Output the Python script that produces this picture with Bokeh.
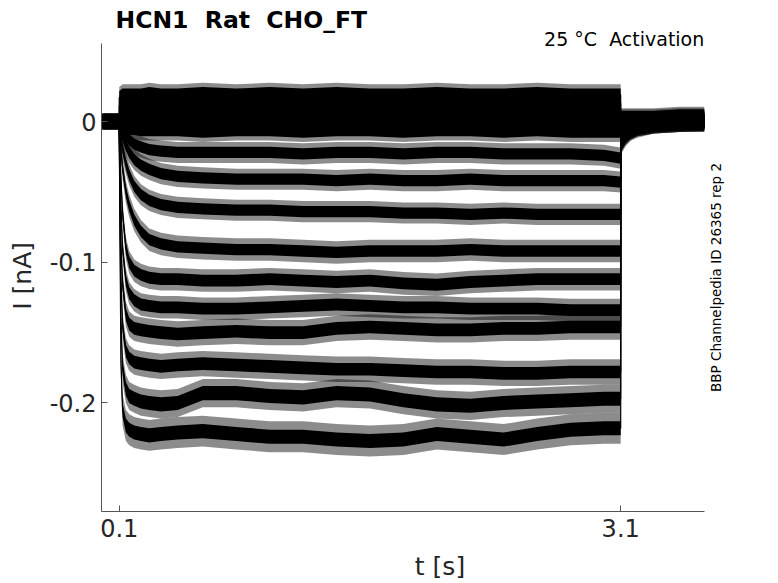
import math
import numpy as np
from bokeh.plotting import figure
from bokeh.models import Range1d, FixedTicker, Label
from bokeh.embed import file_html
from bokeh.resources import INLINE

# ---- time bases (s) ----
t_pre = [0.0, 0.1]
t_pulse = [0.1, 0.11, 0.12, 0.14, 0.16, 0.19, 0.23, 0.28, 0.35, 0.45, 0.6, 0.8,
           1.0, 1.2, 1.4, 1.6, 1.8, 2.0, 2.2, 2.4, 2.6, 2.8, 3.0, 3.1]
t_tail = [3.1, 3.11, 3.13, 3.16, 3.2, 3.3, 3.45, 3.6]

# ---- holding current before the step (nA) ----
pre_nA = [0.0, 0.0]

# ---- current during the activation step (nA), one list per sweep ----
pulse_01 = [0.017, 0.018, 0.019, 0.019, 0.019, 0.019, 0.019, 0.020, 0.019, 0.019, 0.020, 0.019,
            0.020, 0.019, 0.020, 0.019, 0.019, 0.020, 0.019, 0.019, 0.020, 0.019, 0.019, 0.019]
pulse_02 = [0.011, 0.012, 0.013, 0.013, 0.013, 0.013, 0.013, 0.013, 0.014, 0.013, 0.013, 0.013,
            0.014, 0.013, 0.013, 0.014, 0.013, 0.013, 0.013, 0.014, 0.013, 0.013, 0.013, 0.013]
pulse_03 = [0.006, 0.007, 0.007, 0.007, 0.007, 0.007, 0.007, 0.008, 0.007, 0.007, 0.007, 0.007,
            0.008, 0.007, 0.007, 0.007, 0.008, 0.007, 0.007, 0.007, 0.007, 0.008, 0.007, 0.007]
pulse_04 = [0.000, 0.000, 0.001, 0.001, 0.000, 0.001, 0.000, 0.001, 0.000, 0.001, 0.000, 0.001,
            0.000, 0.000, 0.001, 0.000, 0.001, 0.000, 0.000, 0.001, 0.000, 0.000, 0.001, 0.000]
pulse_05 = [-0.001, -0.002, -0.003, -0.004, -0.005, -0.005, -0.006, -0.006, -0.006, -0.006, -0.007, -0.006,
            -0.006, -0.007, -0.006, -0.006, -0.007, -0.006, -0.006, -0.007, -0.006, -0.007, -0.007, -0.007]
pulse_06 = [-0.003, -0.005, -0.007, -0.010, -0.013, -0.016, -0.018, -0.020, -0.021, -0.022, -0.022, -0.022,
            -0.022, -0.023, -0.022, -0.022, -0.023, -0.022, -0.022, -0.023, -0.023, -0.023, -0.024, -0.026]
pulse_07 = [-0.003, -0.007, -0.010, -0.017, -0.022, -0.027, -0.031, -0.034, -0.037, -0.039, -0.040, -0.041,
            -0.041, -0.041, -0.042, -0.041, -0.042, -0.042, -0.041, -0.042, -0.042, -0.042, -0.042, -0.043]
pulse_08 = [-0.004, -0.012, -0.019, -0.030, -0.038, -0.046, -0.052, -0.056, -0.059, -0.061, -0.062, -0.063,
            -0.063, -0.064, -0.064, -0.064, -0.065, -0.065, -0.066, -0.065, -0.066, -0.066, -0.066, -0.066]
pulse_09 = [-0.005, -0.020, -0.033, -0.050, -0.060, -0.070, -0.078, -0.084, -0.087, -0.089, -0.090, -0.091,
            -0.091, -0.092, -0.093, -0.092, -0.092, -0.092, -0.091, -0.092, -0.092, -0.092, -0.092, -0.092]
pulse_10 = [-0.006, -0.040, -0.065, -0.090, -0.100, -0.106, -0.109, -0.111, -0.112, -0.112, -0.113, -0.113,
            -0.112, -0.113, -0.114, -0.113, -0.115, -0.116, -0.114, -0.113, -0.112, -0.112, -0.112, -0.112]
pulse_11 = [-0.006, -0.060, -0.090, -0.113, -0.122, -0.127, -0.130, -0.131, -0.132, -0.132, -0.133, -0.133,
            -0.132, -0.131, -0.130, -0.131, -0.132, -0.132, -0.133, -0.133, -0.133, -0.134, -0.134, -0.134]
pulse_12 = [-0.006, -0.085, -0.115, -0.137, -0.144, -0.147, -0.148, -0.149, -0.150, -0.151, -0.150, -0.149,
            -0.150, -0.150, -0.147, -0.146, -0.147, -0.148, -0.148, -0.147, -0.147, -0.146, -0.146, -0.146]
pulse_13 = [-0.006, -0.110, -0.145, -0.163, -0.168, -0.171, -0.172, -0.173, -0.174, -0.173, -0.172, -0.173,
            -0.174, -0.175, -0.176, -0.176, -0.177, -0.178, -0.178, -0.179, -0.179, -0.178, -0.178, -0.178]
pulse_14 = [-0.006, -0.140, -0.175, -0.190, -0.195, -0.197, -0.199, -0.200, -0.201, -0.200, -0.193, -0.193,
            -0.195, -0.196, -0.193, -0.194, -0.198, -0.201, -0.202, -0.200, -0.199, -0.198, -0.197, -0.197]
pulse_15 = [-0.006, -0.170, -0.205, -0.216, -0.219, -0.221, -0.222, -0.223, -0.222, -0.221, -0.220, -0.222,
            -0.224, -0.224, -0.226, -0.227, -0.226, -0.222, -0.224, -0.226, -0.222, -0.219, -0.218, -0.218]

# ---- tail current after the step (nA) ----
tail_01 = [0.004, 0.004, 0.004, 0.004, 0.004, 0.004, 0.005, 0.005]
tail_02 = [0.003, 0.003, 0.003, 0.003, 0.003, 0.003, 0.004, 0.004]
tail_03 = [0.002, 0.002, 0.002, 0.002, 0.002, 0.002, 0.003, 0.003]
tail_04 = [0.000, 0.000, 0.001, 0.001, 0.001, 0.001, 0.002, 0.002]
tail_05 = [-0.002, -0.002, -0.001, -0.001, 0.000, 0.000, 0.001, 0.001]
tail_06 = [-0.004, -0.004, -0.003, -0.002, -0.001, 0.000, 0.000, 0.001]
tail_07 = [-0.007, -0.006, -0.004, -0.003, -0.002, -0.001, 0.000, 0.000]
tail_08 = [-0.010, -0.008, -0.006, -0.004, -0.003, -0.001, 0.000, 0.000]
tail_09 = [-0.012, -0.010, -0.007, -0.005, -0.003, -0.002, -0.001, 0.000]
tail_10 = [-0.014, -0.011, -0.008, -0.006, -0.004, -0.002, -0.001, -0.001]
tail_11 = [-0.015, -0.012, -0.009, -0.006, -0.004, -0.002, -0.001, -0.001]
tail_12 = [-0.016, -0.013, -0.009, -0.007, -0.005, -0.003, -0.002, -0.001]
tail_13 = [-0.017, -0.014, -0.010, -0.007, -0.005, -0.003, -0.002, -0.001]
tail_14 = [-0.018, -0.015, -0.011, -0.008, -0.005, -0.003, -0.002, -0.002]
tail_15 = [-0.019, -0.016, -0.012, -0.008, -0.006, -0.003, -0.002, -0.002]

# ---- recording noise: dense core and sparse spikes, half-widths (nA) ----
noise_core = [0.0045, 0.0045, 0.0045, 0.0045, 0.0045, 0.004, 0.004, 0.004,
              0.004, 0.0042, 0.0042, 0.0045, 0.0045, 0.005, 0.005]
noise_spike = [0.0075, 0.0075, 0.0075, 0.0075, 0.0075, 0.0075, 0.0075, 0.0075,
               0.008, 0.008, 0.008, 0.009, 0.009, 0.010, 0.011]
noise_rest_core = 0.0035
noise_rest_spike = 0.0055

# ---- ticks ----
x_tick_vals = [0.1, 3.1]
x_tick_text = ["0.1", "3.1"]
y_tick_vals = [-0.2, -0.1, 0]
y_tick_text = ["-0.2", "-0.1", "0"]

pulses = [pulse_01, pulse_02, pulse_03, pulse_04, pulse_05, pulse_06, pulse_07, pulse_08,
          pulse_09, pulse_10, pulse_11, pulse_12, pulse_13, pulse_14, pulse_15]
tails = [tail_01, tail_02, tail_03, tail_04, tail_05, tail_06, tail_07, tail_08,
         tail_09, tail_10, tail_11, tail_12, tail_13, tail_14, tail_15]

p = figure(width=778, height=583, output_backend="svg", toolbar_location=None, title=None,
           x_range=Range1d(-0.006, 4.044), y_range=Range1d(-0.2771, 0.0860),
           min_border_left=101, min_border_right=0, min_border_top=0, min_border_bottom=71,
           background_fill_color="white", border_fill_color="white")

t_all = np.array(t_pre + t_pulse + t_tail)


def halfwidth(rest, pulse):
    return np.array([rest] * len(t_pre) + [pulse] * len(t_pulse) + [rest] * len(t_tail))


for lev_p, lev_t, ns in zip(pulses, tails, noise_spike):
    i_all = np.array(pre_nA + lev_p + lev_t)
    hw = halfwidth(noise_rest_spike, ns)
    p.varea(x=t_all, y1=i_all - hw, y2=i_all + hw, fill_color="black", fill_alpha=0.45)
for lev_p, lev_t, nc in zip(pulses, tails, noise_core):
    i_all = np.array(pre_nA + lev_p + lev_t)
    hw = halfwidth(noise_rest_core, nc)
    p.varea(x=t_all, y1=i_all - hw, y2=i_all + hw, fill_color="black", fill_alpha=1.0)
for lev_p, lev_t in zip(pulses, tails):
    i_all = np.array(pre_nA + lev_p + lev_t)
    p.line(t_all, i_all, line_color="black", line_width=1.2)

p.grid.visible = False
p.outline_line_color = None

axis_col = "#555555"
for ax in (p.xaxis[0], p.yaxis[0]):
    ax.axis_line_color = axis_col
    ax.major_tick_line_color = axis_col
    ax.minor_tick_line_color = None
    ax.major_tick_in = 6
    ax.major_tick_out = 0
    ax.major_label_text_font = "DejaVu Sans"
    ax.major_label_text_font_size = "24px"
    ax.major_label_text_color = "#262626"
    ax.axis_label_text_font = "DejaVu Sans"
    ax.axis_label_text_font_size = "25px"
    ax.axis_label_text_font_style = "normal"
    ax.axis_label_text_color = "#262626"
p.xaxis.bounds = (-0.006, 3.603)
p.yaxis.bounds = (-0.2771, 0.0553)
p.xaxis.ticker = FixedTicker(ticks=x_tick_vals)
p.xaxis.major_label_overrides = dict(zip(x_tick_vals, x_tick_text))
p.yaxis.ticker = FixedTicker(ticks=y_tick_vals)
p.yaxis.major_label_overrides = dict(zip(y_tick_vals, y_tick_text))
p.xaxis.major_label_standoff = 7
p.yaxis.major_label_standoff = 5
p.xaxis.axis_label = "t [s]"
# the frame reaches the top of the canvas; padding keeps the label centred on the drawn axis
p.yaxis.axis_label = "I [nA]\u00a0\u00a0\u00a0\u00a0\u00a0"
p.xaxis.axis_label_standoff = 12
p.yaxis.axis_label_standoff = 10

p.add_layout(Label(x=0.0777, y=0.0722, text="HCN1\u00a0 Rat\u00a0 CHO_FT", text_font="DejaVu Sans",
                   text_font_style="bold", text_font_size="23.5px", text_color="black",
                   text_align="left", text_baseline="alphabetic"))
p.add_layout(Label(x=3.600, y=0.0586, text="25 °C\u00a0 Activation", text_font="DejaVu Sans",
                   text_font_size="19px", text_color="black",
                   text_align="right", text_baseline="alphabetic"))
p.add_layout(Label(x=3.673, y=-0.1108, text="BBP Channelpedia ID 26365 rep 2", text_font="DejaVu Sans",
                   text_font_size="13.5px", text_color="black", angle=math.pi / 2,
                   text_align="center", text_baseline="alphabetic"))

open("out.html", "w").write(file_html(p, INLINE))
